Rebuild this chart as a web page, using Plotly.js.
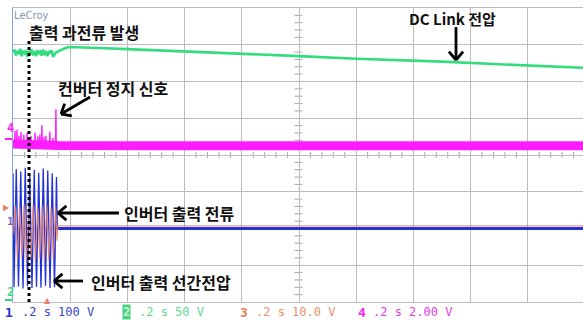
<!DOCTYPE html>
<html>
<head>
<meta charset="utf-8">
<script src="https://cdn.plot.ly/plotly-3.0.1.min.js"></script>
<style>
  html, body { margin: 0; padding: 0; background: #ffffff; }
  #scope { width: 583px; height: 320px; }
</style>
</head>
<body>
<div id="scope"></div>
<script>
// ---- Captured waveforms (time in seconds, 0.2 s/div) ----

// CH2: DC link voltage [V]
const dcLinkT = [0, 0.005, 0.010, 0.015, 0.020, 0.025, 0.030, 0.035, 0.040, 0.045, 0.050,
  0.055, 0.060, 0.065, 0.070, 0.075, 0.080, 0.085, 0.090, 0.095, 0.100, 0.105, 0.110,
  0.115, 0.120, 0.125, 0.130, 0.135, 0.140, 0.145, 0.150, 0.160, 0.170, 0.180, 0.190,
  0.200, 0.250, 0.300, 0.400, 0.500, 0.650, 0.800, 1.000, 1.200, 1.350, 1.500, 1.700,
  1.850, 1.930, 2.000];
const dcLinkV = [327, 331, 323, 329, 325, 332, 322, 328, 326, 330, 321,
  329, 324, 331, 325, 327, 322, 330, 326, 328, 323, 331, 325,
  327, 322, 329, 326, 330, 321, 325, 327, 329, 331, 333, 334,
  334.5, 334, 333, 331.5, 330, 327.6, 325, 322, 318.5, 317, 314.5, 311,
  309, 307.5, 306];

// CH1: inverter line-to-line output voltage [V]
const lineVT = [0, 0.0035, 0.0114, 0.0192, 0.0271, 0.0350, 0.0428, 0.0507, 0.0586,
  0.0664, 0.0743, 0.0822, 0.0900, 0.0979, 0.1058, 0.1136, 0.1215, 0.1294, 0.1372,
  0.1451, 0.1520, 0.1550, 2.000];
const lineVV = [150, -160, 162, -158, 155, -163, 165, -157, 148,
  -162, 160, -159, 152, -161, 163, -156, 158, -162, 150,
  -160, 140, 0, 0];

// CH3: inverter output current (probe output) [V]
const curT = [0, 0.0075, 0.0153, 0.0232, 0.0310, 0.0389, 0.0467, 0.0546, 0.0624,
  0.0703, 0.0781, 0.0860, 0.0938, 0.1017, 0.1095, 0.1174, 0.1252, 0.1331, 0.1409,
  0.1488, 0.1540, 0.1570, 2.000];
const curV = [-2, 5.5, -9, 5.0, -8.5, 5.8, -9.5, 5.2, -8.8,
  5.6, -9.2, 5.0, -8.6, 5.4, -9.4, 5.5, -9.0, 5.1, -8.7,
  5.3, -4, 0, 0];

// CH4: converter stop signal [V] - steady level and the glitches before shutdown
const stopT = [0, 0.160, 0.500, 1.000, 1.500, 2.000];
const stopV = [0.10, 0.02, 0, 0, 0, 0];
const glitchT = [0.007, 0.014, 0.021, 0.028, 0.038, 0.049, 0.056, 0.063, 0.077, 0.087,
  0.094, 0.101, 0.108, 0.115, 0.129, 0.140, 0.150];
const glitchV = [0.82, 0.87, 0.55, 0.75, 0.60, 0.72, 0.45, 0.55, 0.71, 0.50,
  0.62, 1.12, 0.48, 0.55, 0.78, 0.42, 1.99];

// Over-current trip instant [s]
const tripT = 0.056;

// Channel readout labels
const chLabels = ['1', '2', '3', '4'];
const chSettings = ['.2 s 100 V', '.2 s 50 V', '.2 s 10.0 V', '.2 s 2.00 V'];

// ---- Screen geometry ----
const W = 583, H = 320;
const L = 13, T = 8, B = 18;
const plotW = W - L, plotH = H - T - B;
const pxPerDivX = 57.2;
const xMax = 0.2 * plotW / pxPerDivX;

// vertical scale (V/div) and ground offset (div from centre) per channel
const scale = { ch1: 100, ch2: 50, ch3: 10, ch4: 2 };
const ground = { ch1: -2.0, ch2: -3.75, ch3: -1.93, ch4: 0.25 };
const chRange = ch => [(-4 - ground[ch]) * scale[ch], (4 - ground[ch]) * scale[ch]];

const colors = {
  ch1: '#2232d6', ch2: '#33dd7f', ch3: '#e8806a', ch4: '#ff1cff',
  grid: '#bcbcbc', tick: '#a8a8a8'
};

// pixel -> paper helpers for labels and pointers
const pxX = x => (x - L) / plotW;
const pxY = y => (H - B - y) / plotH;

// glitch spikes drawn from the stop-signal baseline
const gx = [], gy = [];
glitchT.forEach((t, i) => {
  gx.push(t - 0.0012, t, t + 0.0012);
  gy.push(0, glitchV[i], 0);
});

const traces = [
  { x: lineVT, y: lineVV, yaxis: 'y2', type: 'scatter', mode: 'lines',
    line: { color: colors.ch1, width: 1.3 } },
  { x: [lineVT[lineVT.length - 3], 2.0], y: [0, 0], yaxis: 'y2', type: 'scatter', mode: 'lines',
    line: { color: colors.ch1, width: 3 } },
  { x: curT, y: curV, yaxis: 'y4', type: 'scatter', mode: 'lines', opacity: 0.8,
    line: { color: colors.ch3, width: 1.3 } },
  { x: stopT, y: stopV, yaxis: 'y5', type: 'scatter', mode: 'lines',
    line: { color: colors.ch4, width: 9 } },
  { x: gx, y: gy, yaxis: 'y5', type: 'scatter', mode: 'lines',
    line: { color: colors.ch4, width: 1.4 } },
  { x: dcLinkT, y: dcLinkV, yaxis: 'y3', type: 'scatter', mode: 'lines',
    line: { color: colors.ch2, width: 2.6 } }
];

const chanAxis = ch => ({
  overlaying: 'y', anchor: 'x', range: chRange(ch), fixedrange: true,
  showgrid: false, zeroline: false, showline: false, showticklabels: false, ticks: ''
});

// pointer arrows: shaft plus open chevron head, given in screen pixels
function pointer(x0, y0, x1, y1) {
  const dx = x1 - x0, dy = y1 - y0, len = Math.hypot(dx, dy);
  const ux = dx / len, uy = dy / len, hl = 11, a = 0.7;
  const rot = s => [ -(ux * Math.cos(s) - uy * Math.sin(s)), -(ux * Math.sin(s) + uy * Math.cos(s)) ];
  const [ax1, ay1] = rot(a), [ax2, ay2] = rot(-a);
  const seg = (xa, ya, xb, yb) => ({
    type: 'line', xref: 'paper', yref: 'paper',
    x0: pxX(xa), y0: pxY(ya), x1: pxX(xb), y1: pxY(yb),
    line: { color: '#000000', width: 2.8 }
  });
  return [
    seg(x0, y0, x1, y1),
    seg(x1, y1, x1 + ax1 * hl, y1 + ay1 * hl),
    seg(x1, y1, x1 + ax2 * hl, y1 + ay2 * hl)
  ];
}

// centre-cross graticule sub-division ticks (5 per division)
const crossTicks = [];
for (let i = 1; i < 50; i++) {
  if (i % 5 === 0) continue;
  const t = i * 0.04;
  crossTicks.push({ type: 'line', xref: 'x', yref: 'y', x0: t, x1: t, y0: -0.08, y1: 0.08,
    line: { color: colors.tick, width: 1 }, layer: 'below' });
}
for (let i = -19; i < 20; i++) {
  if (i % 5 === 0) continue;
  const v = i * 0.2;
  crossTicks.push({ type: 'line', xref: 'x', yref: 'y', x0: 0.984, x1: 1.012, y0: v, y1: v,
    line: { color: colors.tick, width: 1 }, layer: 'below' });
}

const shapes = [
  ...crossTicks,
  { type: 'line', xref: 'x', yref: 'paper', x0: tripT, x1: tripT, y0: 0, y1: pxY(40),
    line: { color: '#000000', width: 3, dash: 'dot' } },
  ...pointer(90, 97, 61, 114),
  ...pointer(456, 27, 456, 60),
  ...pointer(119, 213, 58, 213),
  ...pointer(83, 281, 54, 281),
  // ground marker bars
  { type: 'line', xref: 'paper', yref: 'paper', x0: pxX(5), x1: pxX(12), y0: pxY(139), y1: pxY(139),
    line: { color: colors.ch4, width: 2 } },
  { type: 'line', xref: 'paper', yref: 'paper', x0: pxX(5), x1: pxX(12), y0: pxY(300), y1: pxY(300),
    line: { color: colors.ch2, width: 2 } }
];

const note = (text, x, y, opts = {}) => Object.assign({
  text: text, xref: 'paper', yref: 'paper', x: pxX(x), y: pxY(y),
  xanchor: 'left', yanchor: 'middle', showarrow: false,
  font: { family: 'Noto Sans CJK KR', size: 16, color: '#111111', weight: 'bold' }
}, opts);

const mono = (size, color, weight) => ({ family: 'DejaVu Sans Mono', size: size, color: color, weight: weight || 'normal' });

const annotations = [
  note('출력 과전류 발생', 27, 32),
  note('컨버터 정지 신호', 56, 88),
  note('DC Link 전압', 407, 18, { font: { family: 'Noto Sans CJK KR', size: 15, color: '#111111', weight: 'bold' } }),
  note('인버터 출력 전류', 122, 213),
  note('인버터 출력 선간전압', 89, 282),
  note('LeCroy', 12, 15, { font: { family: 'DejaVu Sans', size: 10, color: '#8a96a8' } }),
  // ground / trigger markers
  note('4', 5, 128, { font: mono(12, colors.ch4, 'bold') }),
  note('2', 5, 292, { font: mono(12, colors.ch2, 'bold') }),
  note('1', 5, 221, { font: mono(11, '#8a5ac8', 'bold') }),
  note('▶', 1, 207, { font: { family: 'DejaVu Sans', size: 8, color: colors.ch3 } }),
  note('▲', 42, 300, { font: { family: 'DejaVu Sans', size: 8, color: colors.ch3 } }),
  // channel readouts
  note(chLabels[0], 3, 312, { font: mono(13, colors.ch1, 'bold') }),
  note(chSettings[0], 20, 312, { font: mono(12, '#3a44c8') }),
  note(chLabels[1], 122, 312, { font: mono(12, '#c8f4d6', 'bold'), bgcolor: '#48d27e', borderpad: 0 }),
  note(chSettings[1], 137, 312, { font: mono(12, '#5fd891') }),
  note(chLabels[2], 238, 312, { font: mono(13, '#e8805e', 'bold') }),
  note(chSettings[2], 254, 312, { font: mono(12, '#e8906e') }),
  note(chLabels[3], 356, 312, { font: mono(13, '#e82ae8', 'bold') }),
  note(chSettings[3], 371, 312, { font: mono(12, '#e040e0') })
];

const layout = {
  width: W, height: H,
  margin: { l: L, r: 0, t: T, b: B, pad: 0 },
  paper_bgcolor: '#ffffff', plot_bgcolor: '#ffffff',
  showlegend: false,
  xaxis: {
    range: [0, xMax], tick0: 0, dtick: 0.2, showgrid: true, gridcolor: colors.grid, gridwidth: 1,
    showticklabels: false, ticks: '', zeroline: false,
    showline: true, mirror: true, linecolor: colors.grid, linewidth: 1, fixedrange: true
  },
  yaxis: {
    range: [-4, 4], tick0: 0, dtick: 1, showgrid: true, gridcolor: colors.grid, gridwidth: 1,
    showticklabels: false, ticks: '', zeroline: false,
    showline: true, linecolor: '#86a4d8', linewidth: 1.5, fixedrange: true
  },
  yaxis2: chanAxis('ch1'),
  yaxis3: chanAxis('ch2'),
  yaxis4: chanAxis('ch3'),
  yaxis5: chanAxis('ch4'),
  shapes: shapes,
  annotations: annotations
};

Plotly.newPlot('scope', traces, layout, { staticPlot: true, displayModeBar: false });
</script>
</body>
</html>
